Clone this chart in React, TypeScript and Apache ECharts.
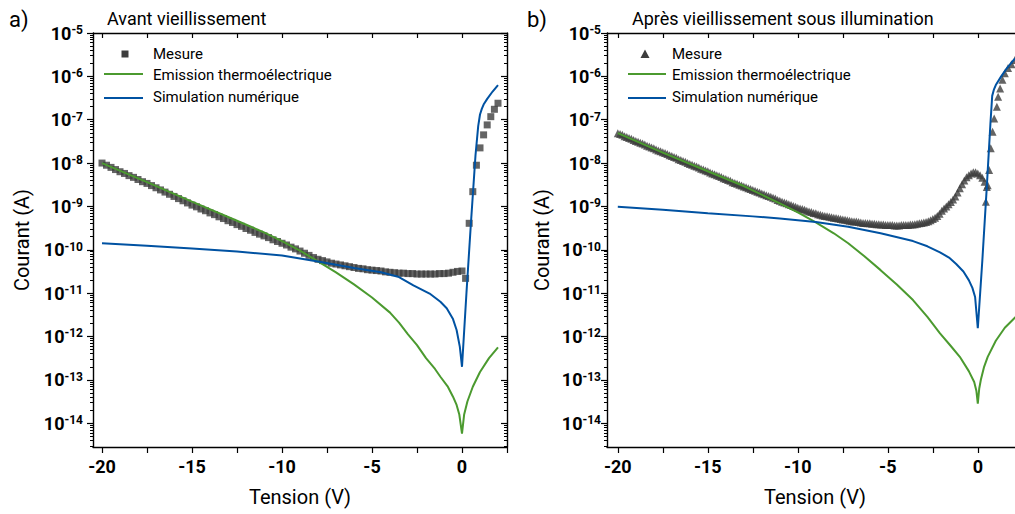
import React, { useEffect, useRef } from "react";
import * as echarts from "echarts";

// ---------- axis ticks / labels ----------
const xTickValues = [-20, -17.5, -15, -12.5, -10, -7.5, -5, -2.5, 0, 2.5];
const xLabelValues = [-20, -15, -10, -5, 0];
const yDecades = [-14, -13, -12, -11, -10, -9, -8, -7, -6, -5]; // exponents of 10 (A)
const Y_MIN = -14.55;
const Y_MAX = -5;

// ---------- panel a) Avant vieillissement : [V, log10(I/A)] ----------
const mesureA: [number, number][] = [
  [-20, -8.0], [-19.75, -8.05], [-19.5, -8.1], [-19.25, -8.15], [-19, -8.2], [-18.75, -8.24], [-18.5, -8.29], [-18.25, -8.33],
  [-18, -8.38], [-17.75, -8.43], [-17.5, -8.47], [-17.25, -8.52], [-17, -8.57], [-16.75, -8.62], [-16.5, -8.67], [-16.25, -8.72],
  [-16, -8.77], [-15.75, -8.82], [-15.5, -8.87], [-15.25, -8.92], [-15, -8.97], [-14.75, -9.01], [-14.5, -9.06], [-14.25, -9.1],
  [-14, -9.15], [-13.75, -9.19], [-13.5, -9.24], [-13.25, -9.28], [-13, -9.33], [-12.75, -9.37], [-12.5, -9.42], [-12.25, -9.46],
  [-12, -9.51], [-11.75, -9.55], [-11.5, -9.6], [-11.25, -9.64], [-11, -9.68], [-10.75, -9.72], [-10.5, -9.77], [-10.25, -9.81],
  [-10, -9.85], [-9.75, -9.89], [-9.5, -9.94], [-9.25, -9.98], [-9, -10.03], [-8.75, -10.08], [-8.5, -10.13], [-8.25, -10.18],
  [-8, -10.22], [-7.75, -10.25], [-7.5, -10.28], [-7.25, -10.31], [-7, -10.33], [-6.75, -10.35], [-6.5, -10.37], [-6.25, -10.39],
  [-6, -10.41], [-5.75, -10.43], [-5.5, -10.44], [-5.25, -10.46], [-5, -10.47], [-4.75, -10.48], [-4.5, -10.49], [-4.25, -10.51],
  [-4, -10.52], [-3.75, -10.53], [-3.5, -10.54], [-3.25, -10.54], [-3, -10.55], [-2.75, -10.55], [-2.5, -10.56], [-2.25, -10.56],
  [-2, -10.56], [-1.75, -10.56], [-1.5, -10.56], [-1.25, -10.55], [-1, -10.55], [-0.75, -10.54], [-0.5, -10.52], [-0.25, -10.5],
  [0, -10.49], [0.2, -10.66], [0.4, -9.39], [0.6, -8.66], [0.8, -8.05], [1.0, -7.65], [1.2, -7.35], [1.4, -7.12],
  [1.6, -6.93], [1.8, -6.76], [2.0, -6.62],
];
const thermoA: [number, number][] = [
  [-20, -8.0], [-17.5, -8.44], [-15, -8.89], [-12.5, -9.33], [-11, -9.6], [-10, -9.8], [-9, -10.02], [-8, -10.27],
  [-7, -10.52], [-6, -10.8], [-5, -11.1], [-4, -11.45], [-3.5, -11.68], [-3, -11.95], [-2.5, -12.2], [-2, -12.5],
  [-1.5, -12.75], [-1.2, -12.93], [-0.8, -13.15], [-0.5, -13.39], [-0.3, -13.58], [-0.15, -13.8], [0, -14.24], [0.12, -13.8],
  [0.3, -13.5], [0.6, -13.16], [1.0, -12.82], [1.5, -12.5], [2.0, -12.25],
];
const simA: [number, number][] = [
  [-20, -9.85], [-17.5, -9.91], [-15, -9.97], [-12.5, -10.04], [-10, -10.13], [-8, -10.27], [-6, -10.42], [-4.5, -10.52],
  [-3.5, -10.63], [-2.7, -10.82], [-1.8, -11.01], [-1.2, -11.2], [-0.85, -11.35], [-0.5, -11.6], [-0.3, -11.85], [-0.12, -12.24],
  [0, -12.7], [0.25, -10.98], [0.5, -9.36], [0.75, -7.82], [0.9, -7.15], [1.0, -6.88], [1.1, -6.75], [1.2, -6.65],
  [1.4, -6.52], [1.7, -6.35], [2.0, -6.2],
];

// ---------- panel b) Après vieillissement sous illumination ----------
const mesureB: [number, number][] = [
  [-20, -7.31], [-19.875, -7.33], [-19.75, -7.35], [-19.625, -7.38], [-19.5, -7.4], [-19.375, -7.42], [-19.25, -7.44], [-19.125, -7.47],
  [-19, -7.49], [-18.875, -7.51], [-18.75, -7.53], [-18.625, -7.55], [-18.5, -7.57], [-18.375, -7.6], [-18.25, -7.62], [-18.125, -7.64],
  [-18, -7.66], [-17.875, -7.69], [-17.75, -7.71], [-17.625, -7.73], [-17.5, -7.75], [-17.375, -7.77], [-17.25, -7.79], [-17.125, -7.82],
  [-17, -7.84], [-16.875, -7.86], [-16.75, -7.88], [-16.625, -7.91], [-16.5, -7.93], [-16.375, -7.95], [-16.25, -7.97], [-16.125, -8.0],
  [-16, -8.02], [-15.875, -8.04], [-15.75, -8.06], [-15.625, -8.08], [-15.5, -8.1], [-15.375, -8.13], [-15.25, -8.15], [-15.125, -8.17],
  [-15, -8.19], [-14.875, -8.22], [-14.75, -8.24], [-14.625, -8.26], [-14.5, -8.28], [-14.375, -8.3], [-14.25, -8.32], [-14.125, -8.35],
  [-14, -8.37], [-13.875, -8.39], [-13.75, -8.41], [-13.625, -8.44], [-13.5, -8.46], [-13.375, -8.48], [-13.25, -8.5], [-13.125, -8.52],
  [-13, -8.54], [-12.875, -8.56], [-12.75, -8.58], [-12.625, -8.6], [-12.5, -8.62], [-12.375, -8.64], [-12.25, -8.66], [-12.125, -8.68],
  [-12, -8.7], [-11.875, -8.72], [-11.75, -8.74], [-11.625, -8.76], [-11.5, -8.78], [-11.375, -8.8], [-11.25, -8.82], [-11.125, -8.85],
  [-11, -8.87], [-10.875, -8.89], [-10.75, -8.91], [-10.625, -8.93], [-10.5, -8.95], [-10.375, -8.97], [-10.25, -8.99], [-10.125, -9.01],
  [-10, -9.03], [-9.875, -9.05], [-9.75, -9.06], [-9.625, -9.08], [-9.5, -9.1], [-9.375, -9.12], [-9.25, -9.13], [-9.125, -9.15],
  [-9, -9.16], [-8.875, -9.18], [-8.75, -9.19], [-8.625, -9.21], [-8.5, -9.22], [-8.375, -9.23], [-8.25, -9.24], [-8.125, -9.25],
  [-8, -9.26], [-7.875, -9.27], [-7.75, -9.28], [-7.625, -9.29], [-7.5, -9.3], [-7.375, -9.31], [-7.25, -9.32], [-7.125, -9.33],
  [-7, -9.34], [-6.875, -9.35], [-6.75, -9.35], [-6.625, -9.36], [-6.5, -9.37], [-6.375, -9.38], [-6.25, -9.38], [-6.125, -9.39],
  [-6, -9.39], [-5.875, -9.4], [-5.75, -9.4], [-5.625, -9.41], [-5.5, -9.41], [-5.375, -9.42], [-5.25, -9.42], [-5.125, -9.43],
  [-5, -9.43], [-4.875, -9.43], [-4.75, -9.43], [-4.625, -9.44], [-4.5, -9.44], [-4.375, -9.44], [-4.25, -9.43], [-4.125, -9.43],
  [-4, -9.43], [-3.875, -9.43], [-3.75, -9.42], [-3.625, -9.42], [-3.5, -9.41], [-3.375, -9.4], [-3.25, -9.39], [-3.125, -9.38],
  [-3, -9.37], [-2.875, -9.36], [-2.75, -9.34], [-2.625, -9.32], [-2.5, -9.29], [-2.375, -9.26], [-2.25, -9.22], [-2.125, -9.17],
  [-2, -9.1], [-1.875, -9.05], [-1.75, -9.0], [-1.625, -8.95], [-1.5, -8.9], [-1.375, -8.84], [-1.25, -8.77], [-1.125, -8.68],
  [-1, -8.58], [-0.875, -8.49], [-0.75, -8.4], [-0.625, -8.33], [-0.5, -8.28], [-0.375, -8.24], [-0.25, -8.21], [-0.125, -8.21],
  [0, -8.24], [0.125, -8.28], [0.25, -8.34], [0.375, -8.43], [0.5, -8.55],
  [0.45, -8.89], [0.55, -8.51], [0.63, -8.16], [0.72, -7.66], [0.82, -7.28], [0.91, -6.97], [1.06, -6.7], [1.13, -6.47],
  [1.24, -6.28], [1.37, -6.08], [1.5, -5.93], [1.68, -5.81], [1.87, -5.72], [2.06, -5.62],
];
const thermoB: [number, number][] = [
  [-20, -7.31], [-17.5, -7.76], [-15, -8.19], [-13, -8.53], [-11, -8.93], [-10, -9.14], [-9, -9.37], [-8, -9.62],
  [-7.2, -9.85], [-6.3, -10.15], [-5.4, -10.47], [-4.5, -10.8], [-3.6, -11.16], [-2.8, -11.55], [-2.1, -11.93], [-1.5, -12.22],
  [-1, -12.47], [-0.5, -12.8], [-0.2, -13.05], [-0.08, -13.25], [0, -13.55], [0.08, -13.2], [0.17, -13.0], [0.35, -12.7],
  [0.55, -12.47], [1.0, -12.1], [1.5, -11.8], [2.1, -11.55], [2.5, -11.35],
];
const simB: [number, number][] = [
  [-20, -9.01], [-17.5, -9.08], [-15, -9.16], [-12.5, -9.23], [-11, -9.28], [-9, -9.36], [-7.2, -9.47], [-5.4, -9.62],
  [-3.6, -9.8], [-2.8, -9.92], [-2.1, -10.06], [-1.6, -10.18], [-1.2, -10.33], [-0.8, -10.5], [-0.5, -10.7], [-0.3, -10.88],
  [-0.15, -11.09], [0, -11.81], [0.25, -10.26], [0.5, -8.55], [0.7, -7.1], [0.8, -6.45], [0.9, -6.3], [1.0, -6.2],
  [1.3, -6.0], [1.6, -5.82], [2.0, -5.62], [2.4, -5.45],
];

const GREEN = "#4b9a2f";
const BLUE = "#0052a2";
const GREY = "#3d3d3d";
const FONT = "Roboto";

function minorLogTicks(): number[] {
  const out: number[] = [];
  for (let d = -15; d < -5; d++) {
    for (let k = 2; k <= 9; k++) {
      const v = d + Math.log10(k);
      if (v >= Y_MIN && v <= Y_MAX) out.push(v);
    }
  }
  return out;
}

export default function App() {
  const ref = useRef<HTMLDivElement>(null);
  useEffect(() => {
    if (!ref.current) return;
    const chart = echarts.init(ref.current, null, { renderer: "svg" });
    const minors = minorLogTicks();

    const grids = [
      { left: 93, top: 33, width: 414, height: 414, xmin: -20.5, xmax: 2.5, labelMargin: 10 },
      { left: 607, top: 33, width: 414, height: 414, xmin: -20.6, xmax: 2.4, labelMargin: 6 },
    ];
    const axisLine = { show: true, onZero: false, lineStyle: { color: "#000", width: 1.4 } };

    const xAxis: any[] = [];
    const yAxis: any[] = [];
    grids.forEach((g, gi) => {
      xAxis.push({
        type: "value", gridIndex: gi, position: "bottom", min: g.xmin, max: g.xmax,
        splitLine: { show: false }, axisLine,
        axisTick: { show: true, customValues: xTickValues, length: 6, lineStyle: { color: "#000", width: 1.2 } },
        axisLabel: {
          show: true, customValues: xLabelValues, margin: 10, color: "#000",
          fontFamily: FONT, fontWeight: "bold", fontSize: 18,
          formatter: (v: number) => String(v),
        },
      });
      xAxis.push({
        type: "value", gridIndex: gi, position: "top", min: g.xmin, max: g.xmax,
        splitLine: { show: false }, axisLine,
        axisTick: { show: true, inside: true, customValues: xTickValues, length: 5, lineStyle: { color: "#000", width: 1.2 } },
        axisLabel: { show: false },
      });
      yAxis.push({
        type: "value", gridIndex: gi, position: "left", min: Y_MIN, max: Y_MAX,
        splitLine: { show: false }, axisLine,
        axisTick: { show: true, customValues: yDecades, length: 6, lineStyle: { color: "#000", width: 1.2 } },
        axisLabel: {
          show: true, customValues: yDecades, margin: g.labelMargin, color: "#000",
          formatter: (v: number) => `{b|10}{s|${Math.round(v)}}`,
          rich: {
            b: { fontFamily: FONT, fontWeight: "bold", fontSize: 18, lineHeight: 18, padding: [4, 0, 4, 0], color: "#000" },
            s: { fontFamily: FONT, fontWeight: "bold", fontSize: 12, lineHeight: 12, verticalAlign: "top", color: "#000" },
          },
        },
      });
      yAxis.push({
        type: "value", gridIndex: gi, position: "left", min: Y_MIN, max: Y_MAX,
        splitLine: { show: false }, axisLine: { show: false, onZero: false },
        axisTick: { show: true, customValues: minors, length: 3, lineStyle: { color: "#000", width: 1 } },
        axisLabel: { show: false },
      });
      yAxis.push({
        type: "value", gridIndex: gi, position: "right", min: Y_MIN, max: Y_MAX,
        splitLine: { show: false }, axisLine,
        axisTick: { show: true, inside: true, customValues: yDecades, length: 6, lineStyle: { color: "#000", width: 1.2 } },
        axisLabel: { show: false },
      });
      yAxis.push({
        type: "value", gridIndex: gi, position: "right", min: Y_MIN, max: Y_MAX,
        splitLine: { show: false }, axisLine: { show: false, onZero: false },
        axisTick: { show: true, inside: true, customValues: minors, length: 3, lineStyle: { color: "#000", width: 1 } },
        axisLabel: { show: false },
      });
    });

    const lineSeries = (data: [number, number][], color: string, gi: number) => ({
      type: "line", data, xAxisIndex: gi * 2, yAxisIndex: gi * 4, showSymbol: false, symbol: "none",
      smooth: false, lineStyle: { color, width: 2 }, clip: true, z: 3,
    });
    const scatterSeries = (data: [number, number][], symbol: string, size: number, gi: number) => ({
      type: "scatter", data, xAxisIndex: gi * 2, yAxisIndex: gi * 4, symbol, symbolSize: size,
      itemStyle: { color: GREY }, clip: true, z: 2,
    });

    const series = [
      scatterSeries(mesureA, "rect", 7, 0),
      lineSeries(thermoA, GREEN, 0),
      lineSeries(simA, BLUE, 0),
      scatterSeries(mesureB, "triangle", 8, 1),
      lineSeries(thermoB, GREEN, 1),
      lineSeries(simB, BLUE, 1),
    ];

    const txt = (text: string, x: number, y: number, size: number, extra: any = {}) => ({
      type: "text", x, y, z: 100,
      style: { text, fontFamily: FONT, fontSize: size, fill: "#000", verticalAlign: "middle", align: "left", ...extra },
    });
    const legLine = (x1: number, x2: number, y: number, color: string) => ({
      type: "line", z: 100, shape: { x1, y1: y, x2, y2: y }, style: { stroke: color, lineWidth: 2 },
    });

    const graphic: any[] = [
      txt("a)", 9, 19, 22),
      txt("b)", 527, 19, 22),
      txt("Avant vieillissement", 107, 18, 18),
      txt("Après vieillissement sous illumination", 632, 18, 18),
      { ...txt("Courant (A)", 22, 240, 20, { align: "center" }), rotation: Math.PI / 2 },
      { ...txt("Courant (A)", 542, 240, 20, { align: "center" }), rotation: Math.PI / 2 },
      txt("Tension (V)", 300, 497, 20, { align: "center" }),
      txt("Tension (V)", 815, 497, 20, { align: "center" }),
      { type: "rect", z: 100, shape: { x: 121.5, y: 50.5, width: 7, height: 7 }, style: { fill: GREY } },
      txt("Mesure", 153, 54, 15),
      legLine(104, 143, 74, GREEN),
      txt("Emission thermoélectrique", 153, 75, 15),
      legLine(104, 143, 98, BLUE),
      txt("Simulation numérique", 153, 97, 15),
      { type: "polygon", z: 100, shape: { points: [[645, 49.5], [649.5, 58], [640.5, 58]] }, style: { fill: GREY } },
      txt("Mesure", 672, 54, 15),
      legLine(628, 666, 74, GREEN),
      txt("Emission thermoélectrique", 672, 75, 15),
      legLine(628, 666, 98, BLUE),
      txt("Simulation numérique", 672, 97, 15),
    ];

    chart.setOption({
      animation: false,
      backgroundColor: "#fff",
      grid: grids.map((g) => ({ left: g.left, top: g.top, width: g.width, height: g.height, containLabel: false })),
      xAxis,
      yAxis,
      series,
      graphic,
    });
    return () => chart.dispose();
  }, []);

  return (
    <div style={{ position: "fixed", left: 0, top: 0, width: 1015, height: 514, overflow: "hidden", background: "#fff" }}>
      <div ref={ref} style={{ width: 1035, height: 514 }} />
    </div>
  );
}
